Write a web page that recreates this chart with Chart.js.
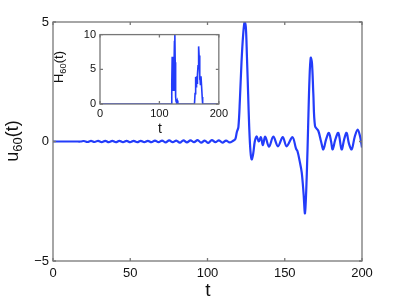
<!DOCTYPE html>
<html>
<head>
<meta charset="utf-8">
<script src="https://cdn.jsdelivr.net/npm/chart.js@4"></script>
<style>
  body { margin: 0; background: #fff; }
  #wrap { position: relative; width: 399px; height: 300px; font-family: "Liberation Sans", Arial, sans-serif; color: #111; }
  canvas { position: absolute; }
  .lbl { position: absolute; white-space: nowrap; line-height: 1; }
  .rot { transform: translate(-50%, -50%) rotate(-90deg); }
  .ctr { transform: translate(-50%, -50%); }
  .sub { font-size: 0.72em; vertical-align: -0.35em; }
</style>
</head>
<body>
<div id="wrap">
  <canvas id="main" width="399" height="300" style="left:0;top:0"></canvas>
  <canvas id="inset" width="175" height="112" style="left:56px;top:24px"></canvas>
  <div class="lbl rot" style="left:14px;top:141px;font-size:18px">u<span class="sub">60</span>(t)</div>
  <div class="lbl ctr" style="left:208px;top:289px;font-size:19px">t</div>
  <div class="lbl rot" style="left:60px;top:67px;font-size:13px">H<span class="sub">60</span>(t)</div>
  <div class="lbl ctr" style="left:160px;top:128px;font-size:14px">t</div>
</div>
<script>
// main signal u_60(t)
const tMain = [0, 5, 10, 15, 18,
  20, 22.3, 24.6, 26.9, 29.2, 31.5, 33.8, 36.1, 38.4, 40.7, 43, 45.3, 47.6, 49.9,
  52.2, 54.5, 56.8, 59.1, 61.4, 63.7, 66, 68.3, 70.6, 72.9, 75.2, 77.5, 79.8, 82.1,
  84.4, 86.7, 89, 91.3, 93.6, 95.9, 98.2, 100.5, 102.8, 105.1, 107.4, 109.7, 112, 114.3, 116.6,
  118, 119, 120, 121, 122, 123, 124, 124.8, 125.5, 126.3, 127, 127.8, 128.6, 129.6, 130.6,
  131.8, 133.2, 134.6, 135.8, 137.4, 139.8, 142.6, 145.6, 148.7, 151.2, 155, 157.3, 158.2,
  159.6, 161, 162.2, 163.1, 164.2, 165.2, 166, 166.8, 167.6, 168.5, 169.6, 171.7, 173.5,
  175, 176.8, 178.6, 180, 181, 182.8, 184.7, 186.8, 188.5, 190, 191.6, 193.3, 195.3, 197.2, 198.8, 200];
const uMain = [0, 0, 0, 0, 0,
  0.02, -0.02, 0.025, -0.02, 0.03, -0.025, 0.03, -0.03, 0.025, -0.03, 0.03, -0.025, 0.03, -0.03,
  0.025, -0.03, 0.03, -0.025, 0.03, -0.03, 0.04, -0.03, 0.04, -0.04, 0.045, -0.03, 0.04, -0.05,
  0.05, -0.04, 0.05, -0.03, 0.06, -0.05, 0.04, -0.06, 0.06, -0.03, 0.05, -0.05, 0.04, -0.04, 0.03,
  0.1, 0.4, 0.6, 1.8, 3.3, 4.4, 5.0, 4.8, 3.6, 2.0, 0.6, -0.4, -0.75, -0.5, 0.0,
  0.22, 0.0, 0.18, -0.15, 0.2, -0.22, 0.2, -0.2, 0.18, -0.2, 0.18, -0.3, -0.4,
  -0.8, -1.3, -2.2, -3.0, -1.5, 0.8, 2.6, 3.5, 3.3, 2.0, 0.64, 0.45, 0.0,
  -0.33, 0.1, 0.36, 0.0, -0.33, 0.1, 0.36, -0.33, 0.1, 0.36, -0.1, -0.33, 0.2, 0.5, 0.2, -0.25];
// inset H_60(t)
const tInset = [0, 118, 120, 120.8, 121.5, 122.2, 122.8, 123.5, 124.5, 125.3, 126, 126.6, 127.3, 128, 129, 130, 131, 132,
  159, 160, 161, 161.8, 162.5, 163.3, 164, 165, 166, 166.8, 167.5, 168.3, 169, 170, 171, 172, 172.8, 200];
const hInset = [0, 0, 0, 3, 6.8, 3, 6.5, 2, 5, 9, 10, 6, 1, 0.4, 0.2, 0.5, 0.1, 0,
  0, 1.5, 3.9, 2.5, 4, 3, 4.2, 5.5, 8.3, 7, 3.5, 4.2, 2.8, 4, 2.5, 1, 0, 0];
const mainXTicks = [0, 50, 100, 150, 200];
const mainYTicks = [-5, 0, 5];
const insetXTicks = [0, 100, 200];
const insetYTicks = [0, 5, 10];

const lineBlue = 'rgb(35,60,250)';
const axisGray = '#777';

const boxTicks = {
  id: 'boxTicks',
  beforeDraw(chart) {
    const { ctx, chartArea: a } = chart;
    ctx.save();
    ctx.fillStyle = '#fff';
    ctx.fillRect(a.left, a.top, a.right - a.left, a.bottom - a.top);
    ctx.restore();
  },
  afterDraw(chart) {
    const { ctx, chartArea: a, scales: { x, y } } = chart;
    const len = 3;
    ctx.save();
    ctx.strokeStyle = axisGray;
    ctx.lineWidth = 1.3;
    ctx.strokeRect(a.left, a.top, a.right - a.left, a.bottom - a.top);
    ctx.beginPath();
    x.ticks.forEach(t => {
      const px = x.getPixelForValue(t.value);
      ctx.moveTo(px, a.bottom); ctx.lineTo(px, a.bottom - len);
      ctx.moveTo(px, a.top); ctx.lineTo(px, a.top + len);
    });
    y.ticks.forEach(t => {
      const py = y.getPixelForValue(t.value);
      ctx.moveTo(a.left, py); ctx.lineTo(a.left + len, py);
      ctx.moveTo(a.right, py); ctx.lineTo(a.right - len, py);
    });
    ctx.stroke();
    ctx.restore();
  }
};

function fmt(v) { return String(v).replace('-', '\u2212'); }

function makeChart(id, xs, ys, xTicks, yTicks, box, fontSize, lw, tension) {
  const pts = xs.map((t, i) => ({ x: t, y: ys[i] }));
  return new Chart(document.getElementById(id), {
    type: 'line',
    data: { datasets: [{ data: pts, borderColor: lineBlue, borderWidth: lw, pointRadius: 0, tension: tension, fill: false }] },
    plugins: [boxTicks],
    options: {
      responsive: false,
      animation: false,
      layout: { padding: { top: box.top, right: box.right, left: 0, bottom: 0 } },
      plugins: { legend: { display: false }, tooltip: { enabled: false } },
      scales: {
        x: {
          type: 'linear', min: xTicks[0], max: xTicks[xTicks.length - 1],
          afterBuildTicks: s => { s.ticks = xTicks.map(v => ({ value: v })); },
          afterFit: s => { s.height = box.xh; },
          grid: { display: false, drawTicks: false },
          border: { display: false },
          ticks: { padding: box.xpad, maxRotation: 0, color: '#111', font: { family: 'Liberation Sans', size: fontSize }, callback: fmt }
        },
        y: {
          type: 'linear', min: yTicks[0], max: yTicks[yTicks.length - 1],
          afterBuildTicks: s => { s.ticks = yTicks.map(v => ({ value: v })); },
          afterFit: s => { s.width = box.yw; },
          grid: { display: false, drawTicks: false },
          border: { display: false },
          ticks: { padding: box.ypad, color: '#111', font: { family: 'Liberation Sans', size: fontSize }, callback: fmt }
        }
      }
    }
  });
}

makeChart('main', tMain, uMain, mainXTicks, mainYTicks,
  { top: 22, right: 37, xh: 39, yw: 53, xpad: 5, ypad: 4 }, 13, 2.2, 0.35);
makeChart('inset', tInset, hInset, insetXTicks, insetYTicks,
  { top: 6, right: 12, xh: 32, yw: 44, xpad: 3, ypad: 4 }, 11, 1.6, 0);
</script>
</body>
</html>
